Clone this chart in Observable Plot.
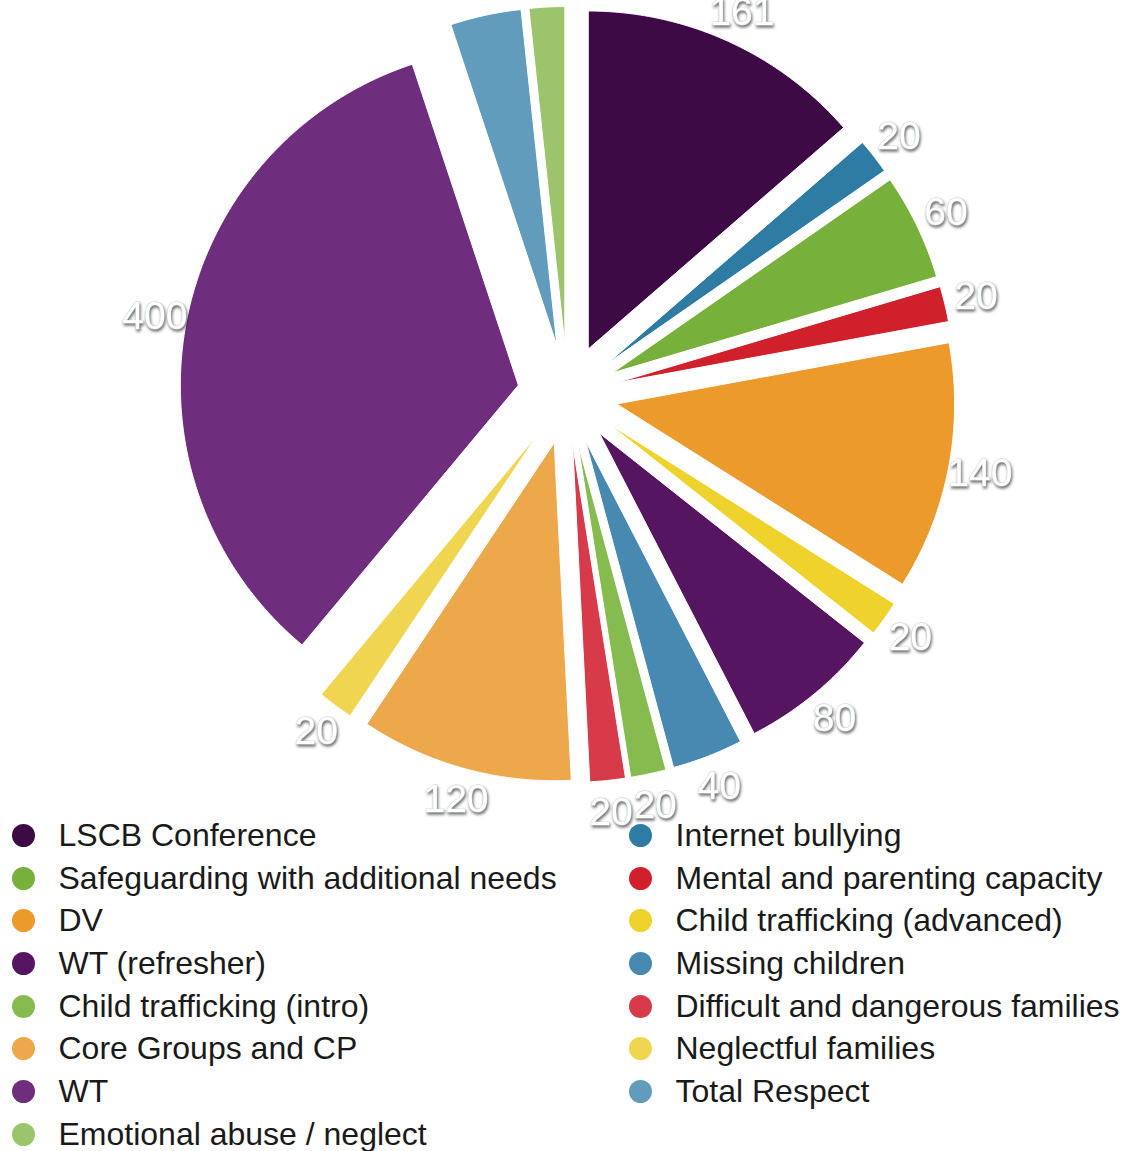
<!DOCTYPE html>
<html><head><meta charset="utf-8">
<script src="https://cdn.jsdelivr.net/npm/d3@7"></script>
<script src="https://cdn.jsdelivr.net/npm/@observablehq/plot@0.6"></script>
<style>
body{margin:0;background:#fff;font-family:"Liberation Sans",Arial,Helvetica,sans-serif;}
#chart svg{display:block;overflow:visible;}
#chart g[aria-label="text"] text{filter:drop-shadow(1px 2px 1.5px rgba(0,0,0,0.6));}
#legend{display:grid;grid-template-columns:617px 513px;font-size:32px;color:#1a1a1a;}
#legend .item{display:flex;align-items:center;height:42.7px;white-space:nowrap;}
#legend .dot{width:23px;height:23px;border-radius:50%;margin-left:11.5px;margin-right:24px;flex:none;}
</style></head>
<body>
<div id="chart"></div>
<div id="legend"></div>
<script>
const categories = ["LSCB Conference","Internet bullying","Safeguarding with additional needs","Mental and parenting capacity","DV","Child trafficking (advanced)","WT (refresher)","Missing children","Child trafficking (intro)","Difficult and dangerous families","Core Groups and CP","Neglectful families","WT","Total Respect","Emotional abuse / neglect"];
const values = [161,20,60,20,140,20,80,40,20,20,120,20,400,40,20];
const colors = ["#3d0a45","#2e7ca3","#77b03a","#d0202b","#ec9a2c","#efd22c","#561561","#4789b0","#86bb50","#d73a48","#eda84c","#f0d550","#6e2e7d","#629cbd","#9cc46c"];

const R = 338, OFF = 50, LABEL_R = 420;
const rows = categories.map((name, i) => ({name, value: values[i]}));
const arcs = d3.pie().sort(null).value(d => d.value)(rows);

const points = [];
const labels = [];
for (const a of arcs) {
  const s = a.startAngle, e = a.endAngle, m = (s + e) / 2;
  const ax = OFF * Math.sin(m), ay = OFF * Math.cos(m);
  points.push({name: a.data.name, x: ax, y: ay});
  const n = Math.max(3, Math.ceil((e - s) / 0.005));
  for (let k = 0; k <= n; k++) {
    const t = s + (e - s) * k / n;
    points.push({name: a.data.name, x: ax + R * Math.sin(t), y: ay + R * Math.cos(t)});
  }
  points.push({name: a.data.name, x: ax, y: ay});
  labels.push({name: a.data.name, value: a.data.value, x: LABEL_R * Math.sin(m), y: LABEL_R * Math.cos(m)});
}
// labels whose anchor falls above the visible frame are not shown (as in the source)
const Y_TOP = 394;
const shownLabels = labels.filter(d => d.y < Y_TOP);

const chart = Plot.plot({
  width: 1130, height: 814, margin: 0,
  style: {fontFamily: "'Liberation Sans', Arial, Helvetica, sans-serif"},
  x: {domain: [-567, 563], axis: null},
  y: {domain: [-420, Y_TOP], axis: null},
  color: {domain: categories, range: colors},
  marks: [
    Plot.line(points, {x: "x", y: "y", z: "name", fill: "name", stroke: "white", strokeWidth: 1}),
    Plot.text(shownLabels, {x: "x", y: "y", text: d => String(d.value), fill: "white", stroke: "#c8d0d0", strokeWidth: 0.8, fontSize: 39, textAnchor: "middle", lineAnchor: "middle"})
  ]
});
document.getElementById("chart").appendChild(chart);

const color = chart.scale("color");
const legend = document.getElementById("legend");
for (const name of categories) {
  const item = document.createElement("div");
  item.className = "item";
  const dot = document.createElement("span");
  dot.className = "dot";
  dot.style.background = color.apply(name);
  const label = document.createElement("span");
  label.textContent = name;
  item.appendChild(dot);
  item.appendChild(label);
  legend.appendChild(item);
}
</script>
</body></html>
